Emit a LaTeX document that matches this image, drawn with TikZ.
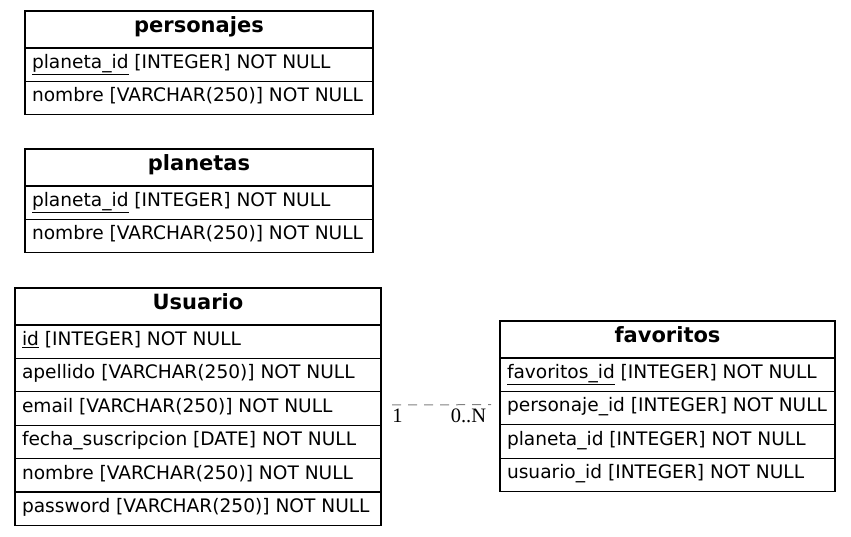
\documentclass[tikz,border=0pt]{standalone}
\usepackage{fontspec}
\setmainfont{DejaVu Sans}
\newfontfamily\labelfont{Liberation Serif}
\begin{document}
\begin{tikzpicture}[x=1pt,y=-1pt]
\tikzset{
 cell/.style={draw, line width=1.3pt, rectangle, anchor=north west, inner sep=0pt, outer sep=0pt},
 hdr/.style={cell, minimum width=#1, font=\fontsize{21}{24}\selectfont\bfseries, minimum height=37pt, text height=15pt, text depth=9.4pt},
 rowc/.style={cell, minimum width=#1, font=\fontsize{18.6}{22}\selectfont, minimum height=33.4pt, text height=14pt, text depth=6.5pt},
 rel/.style={draw=gray, line width=1pt, dash pattern=on 9pt off 7pt},
 lbl/.style={font=\labelfont\fontsize{20.5}{24}\selectfont, inner sep=0pt, anchor=base}
}
\newcommand{\lft}[2]{\makebox[#1][l]{#2}}
\useasboundingbox (0,0) rectangle (851,536);
% personajes
\node[hdr=348pt] (pers) at (25,11) {personajes};
\node[rowc=348pt] (pers1) at (pers.south west) {\lft{334pt}{\underline{planeta\_id} [INTEGER] NOT NULL}};
\node[rowc=348pt] (pers2) at (pers1.south west) {\lft{334pt}{nombre [VARCHAR(250)] NOT NULL}};
% planetas
\node[hdr=348pt] (plan) at (25,149) {planetas};
\node[rowc=348pt] (plan1) at (plan.south west) {\lft{334pt}{\underline{planeta\_id} [INTEGER] NOT NULL}};
\node[rowc=348pt] (plan2) at (plan1.south west) {\lft{334pt}{nombre [VARCHAR(250)] NOT NULL}};
% Usuario
\node[hdr=366pt] (usr) at (15,288) {Usuario};
\node[rowc=366pt] (usr1) at (usr.south west) {\lft{352pt}{\underline{id} [INTEGER] NOT NULL}};
\node[rowc=366pt] (usr2) at (usr1.south west) {\lft{352pt}{apellido [VARCHAR(250)] NOT NULL}};
\node[rowc=366pt] (usr3) at (usr2.south west) {\lft{352pt}{email [VARCHAR(250)] NOT NULL}};
\node[rowc=366pt] (usr4) at (usr3.south west) {\lft{352pt}{fecha\_suscripcion [DATE] NOT NULL}};
\node[rowc=366pt] (usr5) at (usr4.south west) {\lft{352pt}{nombre [VARCHAR(250)] NOT NULL}};
\node[rowc=366pt] (usr6) at (usr5.south west) {\lft{352pt}{password [VARCHAR(250)] NOT NULL}};
% favoritos
\node[hdr=335pt] (fav) at (500,321) {favoritos};
\node[rowc=335pt] (fav1) at (fav.south west) {\lft{321pt}{\underline{favoritos\_id} [INTEGER] NOT NULL}};
\node[rowc=335pt] (fav2) at (fav1.south west) {\lft{321pt}{personaje\_id [INTEGER] NOT NULL}};
\node[rowc=335pt] (fav3) at (fav2.south west) {\lft{321pt}{planeta\_id [INTEGER] NOT NULL}};
\node[rowc=335pt] (fav4) at (fav3.south west) {\lft{321pt}{usuario\_id [INTEGER] NOT NULL}};
% relation
\draw[rel, shorten <=11pt, shorten >=9pt] ([yshift=3.5pt]usr3.east) -- ([yshift=3.5pt]fav2.west);
\node[lbl] (l1) at (397.5,422) {1};
\node[lbl] (l2) at (468.5,422) {0..N};
\end{tikzpicture}
\end{document}
